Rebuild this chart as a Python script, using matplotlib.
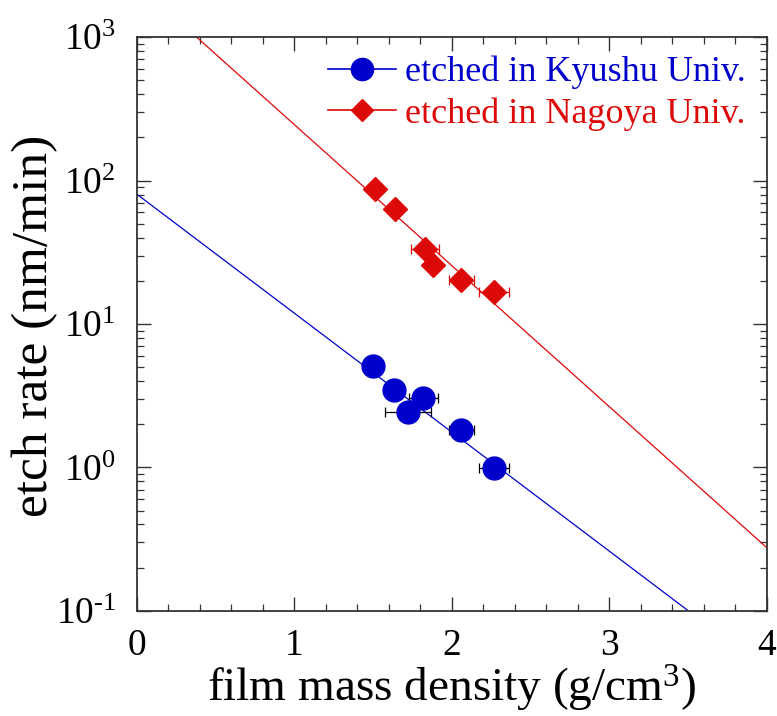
import matplotlib
matplotlib.use("Agg")
import matplotlib.pyplot as plt
from matplotlib.ticker import LogLocator, FixedLocator, NullFormatter

plt.rcParams['font.family'] = ['Liberation Serif', 'DejaVu Serif']
plt.rcParams['mathtext.fontset'] = 'custom'
plt.rcParams['mathtext.rm'] = 'Liberation Serif'
plt.rcParams['mathtext.it'] = 'Liberation Serif:italic'

# Data
kyushu_x = [1.50, 1.63, 1.72, 1.82, 2.06, 2.27]
kyushu_y = [5.1, 3.45, 2.45, 3.05, 1.82, 0.99]
kyushu_xerr = [0.0, 0.0, 0.146, 0.095, 0.08, 0.095]

nagoya_x = [1.51, 1.64, 1.83, 1.88, 2.06, 2.27]
nagoya_y = [88.0, 63.0, 33.5, 25.8, 20.3, 16.8]
nagoya_xerr = [0.0, 0.0, 0.09, 0.0, 0.08, 0.095]

fit_x = [0.0, 4.0]
kyushu_fit = [80.5, 0.0385]
nagoya_fit = [2370.0, 0.275]

x_ticks = [0, 1, 2, 3, 4]
x_ticklabels = ['0', '1', '2', '3', '4']
y_ticks = [0.1, 1, 10, 100, 1000]
y_ticklabels = [r'$\mathregular{10^{‐1}}$', r'$\mathregular{10^{0}}$',
                r'$\mathregular{10^{1}}$', r'$\mathregular{10^{2}}$',
                r'$\mathregular{10^{3}}$']
labels = ['etched in Kyushu Univ.', 'etched in Nagoya Univ.']

blue = '#0000cc'
red = '#dd0808'

fig = plt.figure(figsize=(7.77, 7.16), dpi=100)
ax = fig.add_axes([0.176, 0.147, 0.811, 0.801])

ax.plot(fit_x, kyushu_fit, color=blue, lw=0.9, zorder=2)
ax.plot(fit_x, nagoya_fit, color=red, lw=0.9, zorder=2)

ax.errorbar(kyushu_x, kyushu_y, xerr=kyushu_xerr, fmt='none', ecolor='black',
            elinewidth=0.9, capsize=3.5, capthick=0.9, zorder=3)
ax.errorbar(nagoya_x, nagoya_y, xerr=nagoya_xerr, fmt='none', ecolor=red,
            elinewidth=0.9, capsize=3.5, capthick=0.9, zorder=3)

ax.plot(kyushu_x, kyushu_y, 'o', color=blue, ms=16.5, mec=blue, zorder=4)
ax.plot(nagoya_x, nagoya_y, 'D', color=red, ms=12, mec=red, zorder=4)

# legend proxies
h1, = ax.plot([], [], '-o', color=blue, ms=16, lw=1.2)
h2, = ax.plot([], [], '-D', color=red, ms=11.5, lw=1.2)
leg = ax.legend([h1, h2], labels,
                loc='upper right', frameon=False, fontsize=26, numpoints=1,
                handlelength=1.9, handletextpad=0.25, labelspacing=0.22,
                borderaxespad=0.0, bbox_to_anchor=(0.99, 0.993))
for t, c in zip(leg.get_texts(), [blue, red]):
    t.set_color(c)

ax.set_yscale('log')
ax.set_xlim(0, 4)
ax.set_ylim(0.1, 1000)

ax.xaxis.set_major_locator(FixedLocator(x_ticks))
ax.xaxis.set_minor_locator(FixedLocator([i * 0.2 for i in range(21)]))
ax.set_xticklabels(x_ticklabels)
ax.yaxis.set_major_locator(FixedLocator(y_ticks))
ax.yaxis.set_minor_locator(LogLocator(base=10, subs=range(2, 10)))
ax.yaxis.set_minor_formatter(NullFormatter())
ax.set_yticklabels(y_ticklabels)

ax.tick_params(which='both', direction='in', top=True, right=True, color='#333333')
ax.tick_params(which='major', length=10, width=1, labelsize=27)
ax.tick_params(axis='x', which='major', pad=13)
ax.tick_params(axis='y', which='major', pad=15)
ax.tick_params(which='minor', length=5, width=0.9)
for s in ax.spines.values():
    s.set_linewidth(1.3)
    s.set_color('#333333')

ax.set_xlabel(r'film mass density (g/cm$\mathregular{^3}$)', fontsize=34, labelpad=0)
ax.set_ylabel('etch rate (nm/min)', fontsize=37)
ax.yaxis.set_label_coords(-0.124, 0.497)

fig.savefig('out.png', dpi=100)
